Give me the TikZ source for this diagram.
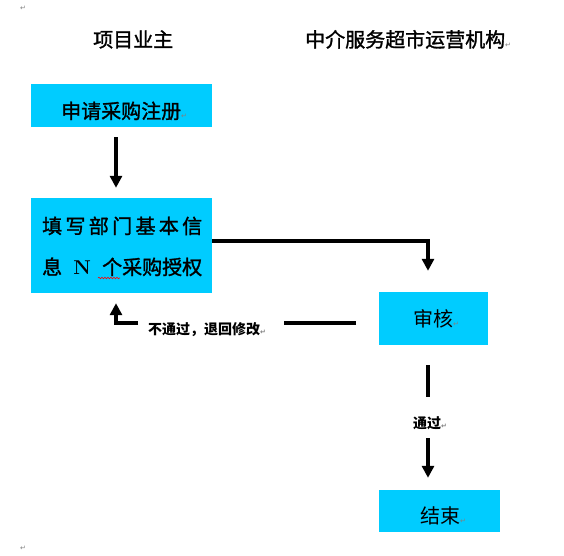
\documentclass[tikz,border=0pt]{standalone}
\usepackage{fontspec}
\usetikzlibrary{arrows.meta,decorations.pathmorphing}
\newfontfamily\cjk{Noto Sans CJK SC}
\newfontfamily\cjkfb[FakeBold=1.4]{Noto Sans CJK SC}
\newfontfamily\symf{DejaVu Sans}
\definecolor{boxcyan}{RGB}{0,204,255}
\definecolor{markgray}{RGB}{128,128,128}
\newcommand{\retmk}{{\symf\fontsize{7}{7}\selectfont\color{markgray}↵}}
\tikzset{
  fbox/.style={fill=boxcyan, draw=none, inner sep=0pt},
  bigtxt/.style={anchor=base west, inner sep=0pt, font=\cjkfb\fontsize{20}{20}\selectfont},
  regtxt/.style={anchor=base west, inner sep=0pt, font=\cjk\fontsize{20}{20}\selectfont},
  smalltxt/.style={anchor=base west, inner sep=0pt, font=\cjk\bfseries\fontsize{14}{14}\selectfont},
  conn/.style={line width=3.2pt, line join=miter},
  arr/.style={conn, -{Triangle[width=12pt,length=12pt]}},
}
\begin{document}
\begin{tikzpicture}[x=1pt,y=-1pt]
\useasboundingbox (0,0) rectangle (564,555);
% paragraph marks
\node[anchor=center, inner sep=0pt] (pm1) at (23,8) {\retmk};
\node[anchor=center, inner sep=0pt] (pm2) at (23,548) {\retmk};
% titles
\node[bigtxt] (h1) at (93,47) {项目业主};
\node[bigtxt] (h2) at (305,47) {中介服务超市运营机构\retmk};
% boxes
\node[fbox, minimum width=181pt, minimum height=43pt] (b1) at (121.5,105.5) {};
\node[fbox, minimum width=181pt, minimum height=95pt] (b2) at (121.5,245.5) {};
\node[fbox, minimum width=109pt, minimum height=53pt] (b3) at (433.5,318.5) {};
\node[fbox, minimum width=121pt, minimum height=42pt] (b4) at (439.5,511) {};
% box texts
\node[bigtxt] (t1) at (61,118.5) {申请采购注册\retmk};
\node[bigtxt] (t2a) at (42,233.5) {\makebox[160pt][s]{填\hfill 写\hfill 部\hfill 门\hfill 基\hfill 本\hfill 信}};
\node[bigtxt] (t2b) at (42,274.5) {\makebox[160pt][s]{息\hfill {\rmfamily\bfseries N}\hfill 个采购授权}};
\draw[red, line width=0.6pt, decorate, decoration={snake, amplitude=0.8pt, segment length=3pt}] (98,278) -- (120,278);
\node[regtxt] (t3) at (413,326.5) {审核\retmk};
\node[regtxt] (t4) at (420,523.5) {结束\retmk};
% labels
\node[smalltxt] (l1) at (148,334) {不通过，退回修改\retmk};
\node[smalltxt] (l2) at (413,428) {通过\retmk};
% connectors
\draw[arr, shorten <=10pt, shorten >=10pt] ([xshift=-5.5pt]b1.south) -- ([xshift=-5.5pt]b2.north);
\draw[arr, shorten >=21pt] ([yshift=4.5pt]b2.east) -| ([xshift=-5.5pt]b3.north);
\coordinate (f1) at (356,323);
\coordinate (f2) at (284,323);
\coordinate (f3) at (138,323);
\draw[conn] (f1) -- (f2);
\draw[arr, shorten >=10pt] (f3) -| ([xshift=-5.5pt]b2.south);
\coordinate (v1) at (428,365);
\coordinate (v2) at (428,397);
\coordinate (v3) at (428,438);
\draw[conn] (v1) -- (v2);
\draw[arr, shorten >=12pt] (v3) -- (v3 |- b4.north);
\end{tikzpicture}
\end{document}
